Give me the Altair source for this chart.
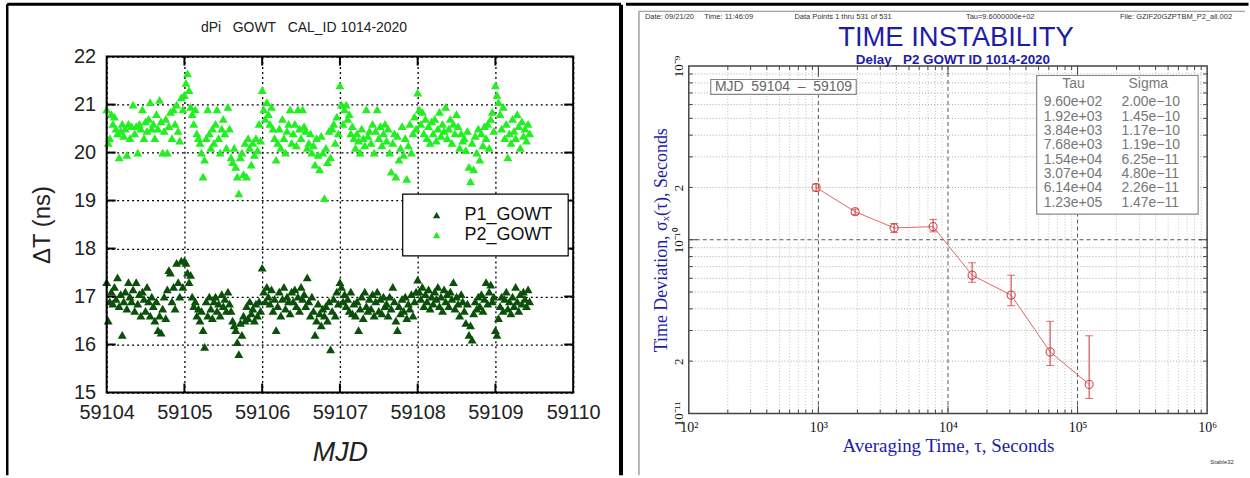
import altair as alt
import pandas as pd

# ---------------- left panel data (dPi GOWT, CAL_ID 1014-2020) ----------------
MJD_START = 59104.0
MJD_STEP = 0.02  # spacing of plotted samples, days

P1_GOWT = [
    17.3, 16.5, 16.9, 17.1, 16.85, 17.2, 16.95, 17.4, 16.8, 17.05,
    16.2, 16.9, 17.1, 16.75, 17.3, 17.0, 16.9, 17.15, 16.7, 17.3,
    16.85, 17.05, 16.6, 17.1, 16.95, 16.7, 17.2, 16.9, 16.6, 17.0,
    16.8, 16.5, 16.9, 16.3, 16.6, 16.25, 16.75, 17.0, 16.55, 17.15,
    17.55, 17.5, 16.9, 17.2, 16.75, 17.7, 17.3, 17.0, 17.75, 17.2,
    17.75, 17.7, 17.5, 17.3, 17.45, 17.0, 16.8, 16.9, 16.6, 16.75,
    16.5, 16.7, 16.3, 15.95, 16.9, 16.6, 17.0, 16.75, 16.55, 16.9,
    17.0, 16.7, 16.85, 16.6, 17.05, 16.8, 16.95, 16.7, 17.1, 16.85,
    16.7, 16.5, 16.4, 16.3, 16.05, 15.8, 16.45, 16.2, 16.6, 16.5,
    16.8, 16.55, 16.9, 16.65, 16.75, 16.5, 16.85, 16.6, 16.9, 16.7,
    17.6, 17.1, 16.9, 17.2, 17.0, 16.85, 17.15, 16.7, 16.95, 16.3,
    16.8, 17.1, 16.6, 16.95, 17.2, 16.75, 17.0, 16.9, 16.65, 17.1,
    16.9, 17.15, 16.8, 17.0, 16.7, 17.2, 16.95, 17.05, 16.8, 17.4,
    16.9, 16.6, 17.0, 16.7, 16.2, 16.5, 16.85, 16.65, 16.4, 16.75,
    16.6, 16.8, 16.5, 16.9, 15.9, 16.7, 16.95, 16.6, 17.1, 16.85,
    17.3, 17.2, 16.9, 17.05, 16.8, 16.95, 16.7, 17.1, 16.65, 16.85,
    16.6, 16.9, 16.3, 16.75, 17.0, 16.55, 17.1, 16.8, 16.7, 16.95,
    16.75, 17.05, 16.6, 16.9, 17.1, 16.7, 16.95, 16.65, 17.0, 16.8,
    16.85, 16.6, 17.0, 16.75, 17.2, 16.9, 16.5, 16.3, 16.8, 16.65,
    16.95, 16.7, 17.0, 16.55, 16.85, 16.75, 17.05, 16.6, 16.9, 17.1,
    17.35, 17.1, 16.95, 17.2, 16.8, 17.05, 16.9, 17.15, 16.75, 17.0,
    16.85, 17.1, 16.95, 17.2, 16.8, 17.0, 16.7, 17.15, 16.9, 17.05,
    16.8, 17.1, 16.95, 17.3, 16.75, 17.0, 16.85, 16.6, 17.05, 16.9,
    16.7, 16.45, 16.85, 16.2, 16.4, 16.1, 16.65, 16.9, 16.75, 17.0,
    16.8, 17.05, 16.7, 16.95, 17.3, 16.85, 17.1, 17.25, 16.9, 17.0,
    16.3, 16.2, 16.55, 16.8, 17.0, 16.7, 16.95, 17.1, 16.75, 16.9,
    16.65, 17.0, 16.8, 17.2, 16.9, 16.7, 17.05, 16.85, 17.1, 16.95,
    16.8, 17.15, 16.9,
]

P2_GOWT = [
    20.9, 20.2, 20.3, 20.8, 20.6, 20.75, 20.5, 20.4, 19.9, 20.45,
    20.6, 20.35, 20.5, 19.95, 20.6, 20.3, 20.55, 21.0, 20.4, 20.55,
    20.0, 20.6, 20.5, 20.9, 20.3, 20.65, 20.45, 20.7, 21.05, 20.5,
    20.6, 20.3, 20.8, 20.5, 21.1, 20.65, 20.0, 20.45, 20.7, 20.0,
    20.55, 20.85, 20.3, 20.9, 20.6, 21.0, 20.45, 20.25, 21.15, 20.9,
    21.2, 21.45, 21.65, 21.3, 20.95, 20.8, 20.6, 20.9, 20.4, 20.3,
    20.2, 20.0, 19.5, 19.85, 20.3, 20.9, 20.4, 20.1, 20.5, 20.2,
    20.6, 20.9, 20.3, 20.0, 20.5, 20.7, 20.4, 20.1, 20.95, 20.5,
    19.9, 19.8, 20.1, 19.7, 19.5, 19.15, 19.9, 20.0, 19.55, 20.2,
    19.5, 20.3, 20.1, 19.75, 20.2, 19.95, 20.3, 20.05, 20.6, 20.25,
    21.3, 20.9, 20.7, 21.05, 20.8, 20.6, 20.95, 20.5, 20.3, 19.85,
    20.2, 20.5, 20.1, 20.7, 20.3, 20.0, 20.45, 20.6, 20.9, 20.2,
    20.4, 20.6, 20.15, 20.9, 20.5, 20.3, 20.9, 20.55, 20.45, 20.1,
    20.2, 20.4, 20.0, 20.15, 19.75, 20.3, 19.95, 19.65, 20.35, 20.0,
    19.05, 20.1, 19.8, 20.45, 19.9, 20.5, 20.6, 20.2, 20.75, 20.4,
    21.4, 21.0, 20.6, 20.9, 21.0, 20.7, 20.8, 20.4, 20.55, 20.3,
    20.1, 20.4, 20.25, 20.0, 20.5, 20.3, 20.15, 20.9, 20.35, 20.45,
    20.2, 20.6, 20.0, 20.45, 20.9, 20.3, 20.55, 20.15, 20.4, 20.6,
    20.25, 20.5, 20.0, 19.6, 20.2, 20.4, 19.5, 20.35, 19.85, 20.1,
    20.55, 19.95, 20.3, 19.45, 20.15, 20.6, 20.0, 20.4, 20.75, 20.5,
    21.25, 20.9, 20.6, 20.85, 20.4, 20.7, 20.3, 20.55, 20.2, 20.65,
    20.4, 20.7, 20.25, 20.5, 20.85, 20.35, 20.6, 20.45, 20.95, 20.3,
    20.5, 20.7, 20.2, 20.6, 20.4, 20.8, 20.55, 20.1, 20.4, 20.25,
    20.3, 20.05, 20.45, 19.7, 19.4, 20.2, 19.65, 20.35, 20.0, 20.5,
    19.85, 20.4, 20.15, 20.55, 20.3, 20.6, 20.1, 20.7, 20.85, 20.45,
    21.4, 21.2, 21.05, 20.8, 20.5, 20.95, 20.3, 20.6, 19.9, 20.4,
    20.2, 20.7, 20.45, 20.3, 20.8, 20.55, 20.1, 20.65, 20.35, 20.5,
    20.25, 20.6, 20.4,
]

SERIES = ["P1_GOWT", "P2_GOWT"]
SERIES_COLORS = ["#0a500a", "#22ee22"]
MJD_TICKS = [59104, 59105, 59106, 59107, 59108, 59109, 59110]
DT_TICKS = [15, 16, 17, 18, 19, 20, 21, 22]
LEFT_TITLE = "dPi\u00a0\u00a0 GOWT\u00a0\u00a0 CAL_ID 1014-2020"

# ---------------- right panel data (Stable32 TDEV) ----------------
TAU = [960, 1920, 3840, 7680, 15360, 30720, 61440, 122880]
SIGMA = [2.00e-10, 1.45e-10, 1.17e-10, 1.19e-10, 6.25e-11, 4.80e-11, 2.26e-11, 1.47e-11]
SIGMA_LO = [1.91e-10, 1.40e-10, 1.10e-10, 1.11e-10, 5.69e-11, 4.17e-11, 1.89e-11, 1.22e-11]
SIGMA_HI = [2.09e-10, 1.50e-10, 1.24e-10, 1.31e-10, 7.37e-11, 6.25e-11, 3.39e-11, 2.80e-11]
TAU_TICKS = [1e2, 1e3, 1e4, 1e5, 1e6]
TAU_TICK_LABELS = ["10\u00b2", "10\u00b3", "10\u2074", "10\u2075", "10\u2076"]
SIG_TICKS = [1e-11, 2e-11, 1e-10, 2e-10, 1e-9]
SIG_TICK_LABELS = ["10\u207b\u00b9\u00b9", "2", "10\u207b\u00b9\u2070", "2", "10\u207b\u2079"]
MAJOR_TAU = [1e3, 1e4, 1e5]
MAJOR_SIG = [1e-10]
MINOR_TAU = [m * 10.0 ** e for e in range(2, 6) for m in range(2, 10)]
MINOR_SIG = [m * 10.0 ** e for e in (-11, -10) for m in range(2, 10)]

HEADER = ["Date: 09/21/20\u00a0\u00a0\u00a0\u00a0 Time: 11:46:09", "Data Points 1 thru 531 of 531",
          "Tau=9.6000000e+02", "File: GZIF20GZPTBM_P2_all.002"]
RIGHT_TITLE = "TIME INSTABILITY"
RIGHT_SUBTITLE = "Delay_ P2 GOWT ID 1014-2020"
MJD_RANGE_TEXT = "MJD\u00a0 59104\u00a0 \u2013\u00a0 59109"

SANS = "Liberation Sans"
SERIF = "Liberation Serif"
BLUE = "#1c1ca8"


def deco():
    return alt.Chart(pd.DataFrame({"k": [0]}))


def txt(s, x, y, size, color="#222", font=SANS, align="left", baseline="alphabetic", **kw):
    return deco().mark_text(text=s, align=align, baseline=baseline, font=font,
                            fontSize=size, color=color, **kw).encode(
        x=alt.value(x), y=alt.value(y))


def rule(x, y, x2, y2, color, width, **kw):
    return deco().mark_rule(color=color, strokeWidth=width, **kw).encode(
        x=alt.value(x), y=alt.value(y), x2=alt.value(x2), y2=alt.value(y2))


def box(x, y, x2, y2, stroke, width, fill="white", fill_opacity=1.0):
    return deco().mark_rect(fill=fill, fillOpacity=fill_opacity, stroke=stroke,
                            strokeWidth=width).encode(
        x=alt.value(x), x2=alt.value(x2), y=alt.value(y), y2=alt.value(y2))


def label_expr(values, labels):
    expr = "''"
    for v, l in reversed(list(zip(values, labels))):
        expr = f"abs(datum.value / {v!r} - 1) < 1e-6 ? '{l}' : {expr}"
    return expr


# ---------------- left panel ----------------
W1, H1 = 468, 337
rows = []
for name, vals in zip(SERIES, [P1_GOWT, P2_GOWT]):
    for i, v in enumerate(vals):
        rows.append({"series": name, "mjd": MJD_START + i * MJD_STEP, "dt": v})
df_scatter = pd.DataFrame(rows)

xs1 = alt.Scale(domain=[MJD_TICKS[0], MJD_TICKS[-1]], nice=False, zero=False)
ys1 = alt.Scale(domain=[DT_TICKS[0], DT_TICKS[-1]], nice=False, zero=False)
X1AXIS = alt.Axis(
    values=MJD_TICKS, format="d", title="MJD", titleFont=SANS, titleFontSize=27,
    titleFontStyle="italic", titleFontWeight="normal", titleColor="#222", titlePadding=17,
    labelFont=SANS, labelFontSize=20, labelColor="#222", labelPadding=10,
    labelFlush=False, labelOverlap=False, ticks=False, domain=False,
    grid=True, gridColor="#000", gridDash=[2, 3], gridWidth=1.3, gridOpacity=1)
Y1AXIS = alt.Axis(
    values=DT_TICKS, title="\u0394T (ns)", titleFont=SANS, titleFontSize=24,
    titleFontWeight="normal", titleColor="#222",
    titleX=-52, titleY=H1 / 2, titleAngle=270, titleAlign="center", titleBaseline="bottom",
    labelFont=SANS, labelFontSize=20, labelColor="#222", labelPadding=11,
    labelFlush=False, labelOverlap=False, ticks=False, domain=False,
    grid=True, gridColor="#000", gridDash=[2, 3], gridWidth=1.3, gridOpacity=1)

scatter = alt.Chart(df_scatter).mark_point(
    shape="triangle-up", filled=True, size=80, opacity=1, strokeWidth=0
).encode(
    x=alt.X("mjd:Q", scale=xs1, axis=X1AXIS),
    y=alt.Y("dt:Q", scale=ys1, axis=Y1AXIS),
    color=alt.Color("series:N", scale=alt.Scale(domain=SERIES, range=SERIES_COLORS), legend=None),
)

xt1 = alt.Chart(pd.DataFrame({"mjd": MJD_TICKS[1:-1]}))
yt1 = alt.Chart(pd.DataFrame({"dt": DT_TICKS[1:-1]}))
ticks1 = [
    xt1.mark_rule(color="black", strokeWidth=2).encode(
        x=alt.X("mjd:Q", scale=xs1, axis=X1AXIS), y=alt.value(H1), y2=alt.value(H1 - 9)),
    xt1.mark_rule(color="black", strokeWidth=2).encode(
        x=alt.X("mjd:Q", scale=xs1, axis=X1AXIS), y=alt.value(0), y2=alt.value(9)),
    yt1.mark_rule(color="black", strokeWidth=2).encode(
        y=alt.Y("dt:Q", scale=ys1, axis=Y1AXIS), x=alt.value(0), x2=alt.value(9)),
    yt1.mark_rule(color="black", strokeWidth=2).encode(
        y=alt.Y("dt:Q", scale=ys1, axis=Y1AXIS), x=alt.value(W1 - 9), x2=alt.value(W1)),
]

legend1 = [box(297, 138, 463, 200, "black", 1.2)]
for i, (name, col) in enumerate(zip(SERIES, SERIES_COLORS)):
    yy = 159 + 20 * i
    legend1.append(deco().mark_point(shape="triangle-up", filled=True, size=55, opacity=1,
                                     color=col, strokeWidth=0).encode(
        x=alt.value(331), y=alt.value(yy)))
    legend1.append(txt(name, 359, yy, 18, color="#111", baseline="middle"))

frame1 = [
    rule(-99.75, -52.5, -99.75, 420, "black", 2.5),
    rule(-99.75, -52.5, 516, -52.5, "black", 3),
    rule(516, -52, 516, 420, "black", 4),
]

left = alt.layer(
    scatter, *ticks1,
    box(0, 0, W1, H1, "black", 2, fill_opacity=0),
    *legend1,
    txt(LEFT_TITLE, 198, -25, 14, color="#222", align="center"),
    *frame1,
).properties(width=W1, height=H1)

# ---------------- right panel (shares the row origin y with the left panel) ----------------
W2 = 520
OY = 9.5            # plot top below the shared row origin
H2 = 348.5          # plot height
HT = OY + H2        # group height (x axis sits at the bottom)
XS = alt.Scale(type="log", domain=[TAU_TICKS[0], TAU_TICKS[-1]], nice=False)
YS = alt.Scale(type="log", domain=[SIG_TICKS[0], SIG_TICKS[-1]], range=[HT, OY], nice=False)

XAXIS = alt.Axis(
    values=TAU_TICKS, labelExpr=label_expr(TAU_TICKS, TAU_TICK_LABELS),
    title="Averaging Time, \u03c4, Seconds", titleFont=SERIF, titleFontSize=19,
    titleFontWeight="normal", titleColor=BLUE, titlePadding=2,
    labelFont=SERIF, labelFontSize=14, labelColor="#111", labelPadding=7,
    labelFlush=False, labelOverlap=False, ticks=False, domain=False, grid=False)
YAXIS = alt.Axis(
    values=SIG_TICKS, labelExpr=label_expr(SIG_TICKS, SIG_TICK_LABELS),
    labelAngle=270, labelAlign="center", labelBaseline="bottom",
    title="Time Deviation, \u03c3\u2093(\u03c4), Seconds", titleFont=SERIF, titleFontSize=18,
    titleFontWeight="normal", titleColor=BLUE, titlePadding=2,
    labelFont=SERIF, labelFontSize=13, labelColor="#111", labelPadding=3,
    labelFlush=False, labelOverlap=False, ticks=False, domain=False, grid=False)

df_r = pd.DataFrame({"tau": TAU, "sigma": SIGMA, "lo": SIGMA_LO, "hi": SIGMA_HI})


def xrules(vals, color, dash, width=1):
    return alt.Chart(pd.DataFrame({"tau": vals})).mark_rule(
        color=color, strokeDash=dash, strokeWidth=width).encode(
        x=alt.X("tau:Q", scale=XS, axis=XAXIS), y=alt.value(OY), y2=alt.value(HT))


def yrules(vals, color, dash, width=1):
    return alt.Chart(pd.DataFrame({"sigma": vals})).mark_rule(
        color=color, strokeDash=dash, strokeWidth=width).encode(
        y=alt.Y("sigma:Q", scale=YS, axis=YAXIS), x=alt.value(0), x2=alt.value(W2))


grid2 = [
    xrules(MINOR_TAU, "#c4c4c4", [1, 2]),
    yrules(MINOR_SIG, "#a8a8a8", [1, 2]),
    xrules(MAJOR_TAU, "#555555", [4, 3]),
    yrules(MAJOR_SIG, "#555555", [4, 3]),
]


def xticks(vals, length):
    d = alt.Chart(pd.DataFrame({"tau": vals}))
    return [
        d.mark_rule(color="#444", strokeWidth=1).encode(
            x=alt.X("tau:Q", scale=XS, axis=XAXIS), y=alt.value(HT), y2=alt.value(HT - length)),
        d.mark_rule(color="#444", strokeWidth=1).encode(
            x=alt.X("tau:Q", scale=XS, axis=XAXIS), y=alt.value(OY), y2=alt.value(OY + length)),
    ]


def yticks(vals, length):
    d = alt.Chart(pd.DataFrame({"sigma": vals}))
    return [
        d.mark_rule(color="#444", strokeWidth=1).encode(
            y=alt.Y("sigma:Q", scale=YS, axis=YAXIS), x=alt.value(0), x2=alt.value(length)),
        d.mark_rule(color="#444", strokeWidth=1).encode(
            y=alt.Y("sigma:Q", scale=YS, axis=YAXIS), x=alt.value(W2 - length), x2=alt.value(W2)),
    ]


ticks2 = xticks(MINOR_TAU, 4) + xticks(MAJOR_TAU, 8) + yticks(MINOR_SIG, 4) + yticks(MAJOR_SIG, 8)

line = alt.Chart(df_r).mark_line(color="#e06868", strokeWidth=1).encode(
    x=alt.X("tau:Q", scale=XS, axis=XAXIS),
    y=alt.Y("sigma:Q", scale=YS, axis=YAXIS),
)

errbars = alt.Chart(df_r).mark_errorbar(ticks=True, size=8, thickness=1, color="#cc3333").encode(
    x=alt.X("tau:Q", scale=XS, axis=XAXIS),
    y=alt.Y("lo:Q", scale=YS, axis=YAXIS),
    y2="hi:Q",
)

points = alt.Chart(df_r).mark_point(shape="circle", filled=False, size=65, strokeWidth=1,
                                    color="#cc3333", opacity=1).encode(
    x=alt.X("tau:Q", scale=XS, axis=XAXIS),
    y=alt.Y("sigma:Q", scale=YS, axis=YAXIS),
)

tau_text = [f"{t:.2e}" for t in TAU]
sig_text = [f"{s:.2e}".replace("-", "\u2212") for s in SIGMA]

table2 = [
    box(349, 19, 511, 158, "#888", 1.2),
    txt("Tau", 386, 28, 14, color="#777", align="center", baseline="middle"),
    txt("Sigma", 461, 28, 14, color="#777", align="center", baseline="middle"),
    txt(tau_text, 356, 49.8, 14, color="#777", lineHeight=14.4),
    txt(sig_text, 434, 49.8, 14, color="#777", lineHeight=14.4),
    box(22, 23, 168, 38, "#888", 1.2),
    txt(MJD_RANGE_TEXT, 95, 31, 14, color="#666", align="center", baseline="middle"),
]

texts2 = [
    txt(HEADER[0], -44, -37.5, 7.5, color="#333"),
    txt(HEADER[1], 106, -37.5, 7.5, color="#333"),
    txt(HEADER[2], 278, -37.5, 7.5, color="#333"),
    txt(HEADER[3], 545, -37.5, 7.5, color="#333", align="right"),
    txt(RIGHT_TITLE, 268, -10.8, 27.5, color=BLUE, align="center"),
    txt(RIGHT_SUBTITLE, 265, 7.5, 13.5, color=BLUE, align="center", fontWeight="bold"),
    txt("Stable32", 535, 407, 6, color="#333", align="center", baseline="middle"),
]

frame2 = [
    rule(-50, -45.5, -50, 420, "#888", 1.2),
    rule(-50, -45.5, 558, -45.5, "#888", 1.2),
    rule(-61.5, -52.5, 560, -52.5, "black", 3, strokeCap="square"),
]

right = alt.layer(
    *grid2, *ticks2, line, errbars, points,
    box(0, OY, W2, HT, "#444", 1.5, fill_opacity=0),
    *table2, *texts2, *frame2,
).properties(width=W2, height=HT)

chart = alt.hconcat(left, right, spacing=0).properties(
    padding={"left": 5, "top": 0, "right": 0, "bottom": 0}
).configure_view(stroke="transparent")

chart.save("out.html", embed_options={"renderer": "svg", "actions": False})
